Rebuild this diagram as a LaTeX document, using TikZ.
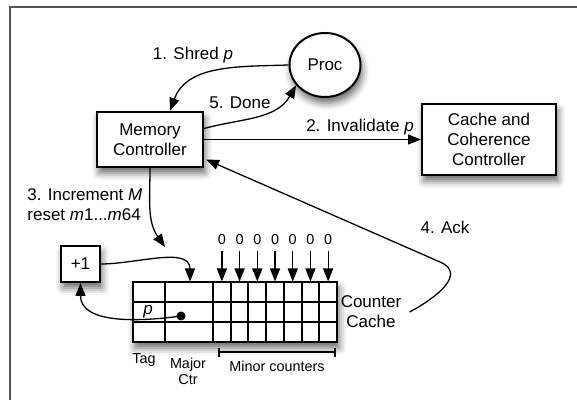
\documentclass[tikz,border=0pt]{standalone}
\usepackage{fontspec}
\setmainfont{Liberation Sans}
\usetikzlibrary{shapes.geometric, arrows.meta, positioning, shadows.blur}

\definecolor{colorFrame}{RGB}{85, 85, 85}

\tikzstyle{unit} = [rectangle, draw=black, line width=1pt, fill=white, text centered, align=center, font=\fontsize{8.5}{10}\selectfont, blur shadow={shadow xshift=1pt, shadow yshift=-3pt, shadow blur radius=3.5pt, shadow opacity=60}]
\tikzstyle{procnode} = [ellipse, draw=black, line width=1pt, fill=white, minimum width=35.5pt, minimum height=32pt, font=\fontsize{8.5}{10}\selectfont, blur shadow={shadow xshift=1pt, shadow yshift=-3pt, shadow blur radius=3.5pt, shadow opacity=60}]
\tikzstyle{msg} = [font=\fontsize{8.5}{10}\selectfont, inner sep=1pt]
\tikzstyle{small} = [font=\fontsize{7.2}{8}\selectfont, inner sep=1pt]
\tikzstyle{cell} = [line width=1pt]
\tikzstyle{arrow} = [line width=0.65pt, -{Triangle[length=6.5pt, width=5pt]}]

\begin{document}
\begin{tikzpicture}[x=0.5pt, y=0.5pt]
	\useasboundingbox (0,0) rectangle (577,400);

	% frame
	\draw[colorFrame, line width=1.2pt] (10,0) -- (10,393) -- (577,393);

	% blocks
	\node (proc)[procnode] at (325,335) {Proc};
	\node (memCtrl)[unit, minimum width=53pt, minimum height=27.5pt] at (150,260.5) {Memory\\Controller};
	\node (cohCtrl)[unit, minimum width=67pt, minimum height=35.5pt] at (489,260.5) {Cache and\\Coherence\\Controller};
	\node (plusOne)[unit, minimum width=19.5pt, minimum height=18pt] at (80.5,136) {+1};
	\node (ctrCache)[unit, minimum width=102pt, minimum height=30pt] at (235,88) {};

	% cells of the counter cache
	\foreach \x in {165,213} \draw[cell] (\x,58) -- (\x,118);
	\foreach \k in {1,...,6} \draw[cell] ({213+17.71*\k},58) -- ({213+17.71*\k},118);
	\foreach \y in {78,98} \draw[cell] (133,\y) -- (337,\y);

	\node (tagP)[msg] at (148,88) {\textit{p}};
	\fill (181,84) circle (4.5);
	\coordinate (ptr) at (181,84);

	% zeros into the minor counters
	\foreach \i in {0,...,6} {
		\node (zero\i)[small, inner sep=3pt] at ({221.9+17.71*\i},160) {0};
		\coordinate (slot\i) at ({221.9+17.71*\i},118.5);
		\draw[arrow] (zero\i) -- (slot\i);
	}

	% labels
	\node (ccLabel)[msg, align=center] at (371,88) {Counter\\Cache};
	\node (tagLabel)[small] at (144,40) {Tag};
	\node (majorLabel)[small, align=center] at (188,29) {Major\\Ctr};
	\node (minorLabel)[small] at (277,34) {Minor counters};
	\draw[line width=0.65pt] (219,52) -- (219,43) (219,48) -- (335,48) (335,52) -- (335,43);

	% messages
	\node (shredMsg)[msg] at (193,345) {1. Shred \textit{p}};
	\node (doneMsg)[msg] at (240,297) {5. Done};
	\node (invMsg)[msg] at (360,273) {2. Invalidate \textit{p}};
	\node (incMsg)[msg, anchor=west, align=left] at (25,195) {3. Increment \textit{M}\\reset \textit{m}1...\textit{m}64};
	\node (ackMsg)[msg] at (445,173) {4. Ack};

	% lines and arrows
	\coordinate (incTip) at (165,153);
	\coordinate (majorIn) at (190,118.5);
	\coordinate (ackTurn) at (440,138);

	\draw[arrow] (proc.west) to[out=182, in=70] ([xshift=10pt]memCtrl.north);
	\draw[arrow] ([yshift=5.5pt]memCtrl.east) to[out=15, in=240] (proc.215);
	\draw[arrow] (memCtrl.east) -- (cohCtrl.west);
	\draw[arrow] (memCtrl.south) to[out=-90, in=125] (incTip);
	\draw[arrow] (plusOne.east) to[out=0, in=90] (majorIn);
	\draw[arrow] (ptr) to[out=188, in=-90] (plusOne.south);
	\draw[arrow] ([xshift=3pt]ccLabel.east) to[out=28, in=-23, looseness=1.3] (ackTurn) -- ([xshift=1pt, yshift=-10pt]memCtrl.east);

\end{tikzpicture}
\end{document}
